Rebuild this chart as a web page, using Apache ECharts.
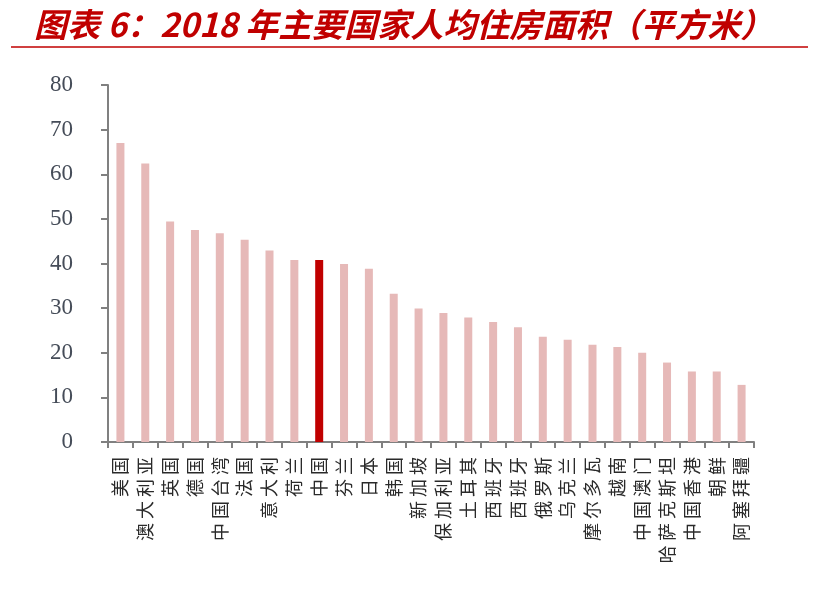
<!DOCTYPE html>
<html>
<head>
<meta charset="utf-8">
<script src="https://cdn.jsdelivr.net/npm/echarts@6/dist/echarts.min.js"></script>
<style>
html,body{margin:0;padding:0;background:#fff;}
#chart{width:815px;height:589px;}
</style>
</head>
<body>
<div id="chart"></div>
<script>
var categories = ['美国','澳大利亚','英国','德国','中国台湾','法国','意大利','荷兰','中国','芬兰','日本','韩国','新加坡','保加利亚','土耳其','西班牙','西班牙','俄罗斯','乌克兰','摩尔多瓦','越南','中国澳门','哈萨克斯坦','中国香港','朝鲜','阿塞拜疆'];
var areaPerCapita = [67.0,62.4,49.4,47.5,46.8,45.3,42.9,40.8,40.8,39.9,38.8,33.2,29.9,28.9,27.9,26.9,25.7,23.6,22.9,21.8,21.3,20.0,17.8,15.8,15.8,12.8];
var highlightName = '中国';
var titleText = '图表 6：2018 年主要国家人均住房面积（平方米）';

var chart = echarts.init(document.getElementById('chart'));
chart.setOption({
  animation: false,
  backgroundColor: '#ffffff',
  title: {
    text: titleText,
    left: 29,
    top: 3,
    textStyle: {
      color: '#C00000',
      fontStyle: 'italic',
      fontWeight: 'bold',
      fontSize: 33,
      fontFamily: 'Noto Sans CJK SC'
    }
  },
  graphic: [{
    type: 'line',
    shape: {x1: 11, y1: 47, x2: 808, y2: 47},
    style: {stroke: '#C00000', lineWidth: 1.5}
  }],
  grid: {left: 108, right: 61, top: 85, bottom: 147, containLabel: false},
  xAxis: {
    type: 'category',
    data: categories,
    axisLine: {show: true, lineStyle: {color: '#808080', width: 2}},
    axisTick: {show: true, inside: false, length: 6, alignWithLabel: false, lineStyle: {color: '#808080', width: 2}},
    axisLabel: {
      rotate: 90,
      interval: 0,
      margin: 15,
      fontSize: 18,
      color: '#2a2a2a',
      fontFamily: 'Noto Sans CJK SC',
      formatter: function (v) { return v.split('').join(' '); }
    }
  },
  yAxis: {
    type: 'value',
    min: 0,
    max: 80,
    interval: 10,
    splitLine: {show: false},
    axisLine: {show: true, lineStyle: {color: '#808080', width: 2}},
    axisTick: {show: true, inside: false, length: 7, lineStyle: {color: '#808080', width: 2}},
    axisLabel: {
      margin: 35,
      fontSize: 23,
      color: '#454c58',
      fontFamily: 'Liberation Serif'
    }
  },
  series: [{
    type: 'bar',
    data: areaPerCapita,
    barWidth: 8,
    itemStyle: {
      color: function (p) { return categories[p.dataIndex] === highlightName ? '#C00000' : '#E6B9B8'; }
    }
  }]
});
</script>
</body>
</html>
